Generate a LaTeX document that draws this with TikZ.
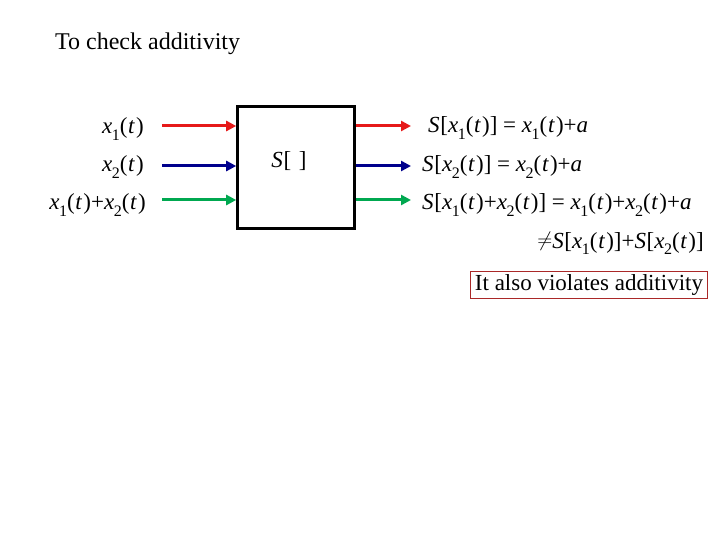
\documentclass[tikz,border=0pt]{standalone}
\usepackage{fontspec}
\setmainfont{Liberation Serif}
\usetikzlibrary{arrows.meta}
\definecolor{sred}{RGB}{230,25,25}
\definecolor{sblue}{RGB}{0,0,140}
\definecolor{sgreen}{RGB}{0,168,80}
\definecolor{boxred}{RGB}{170,40,40}
\newcommand{\vx}[1]{\textit{x}\kern-0.02em\raisebox{-0.28em}{\fontsize{16}{16}\selectfont #1}}
\newcommand{\vt}{(\kern0.03em\textit{t}\kern0.05em)}
\newcommand{\vS}{\textit{S}\kern0.03em}
\begin{document}
\begin{tikzpicture}[x=1pt,y=-1pt,
  lbl/.style={inner sep=0pt,font=\fontsize{23}{27}\selectfont},
  sig/.style={line width=3pt,-{Triangle[length=10pt,width=10pt]}}]
\useasboundingbox[fill=white] (0,0) rectangle (720,540);
\node[lbl,font=\fontsize{24}{28}\selectfont,anchor=base west] (title) at (55,50) {To check additivity};
\node[draw,line width=2.6pt,minimum width=117pt,minimum height=122pt,inner sep=0pt] (sys) at (296,167.5) {};
\node[lbl] (sl) at (289,161) {\vS[\,\,]};
\coordinate (r1) at (162,126);
\coordinate (b1) at (162,166);
\coordinate (g1) at (162,200);
\coordinate (r2) at (411,126);
\coordinate (b2) at (411,166);
\coordinate (g2) at (411,200);
\draw[sig,sred] (r1) -- (r1 -| sys.west);
\draw[sig,sblue] (b1) -- (b1 -| sys.west);
\draw[sig,sgreen] (g1) -- (g1 -| sys.west);
\draw[sig,sred] (sys.east |- r2) -- (r2);
\draw[sig,sblue] (sys.east |- b2) -- (b2);
\draw[sig,sgreen] (sys.east |- g2) -- (g2);
\node[lbl,anchor=base east] (in1) at (144,134) {\vx{1}\vt};
\node[lbl,anchor=base east] (in2) at (144,172) {\vx{2}\vt};
\node[lbl,anchor=base east] (in3) at (146,210) {\vx{1}\vt+\vx{2}\vt};
\node[lbl,anchor=base west] (out1) at (428,133) {\vS[\vx{1}\vt] = \vx{1}\vt+\textit{a}};
\node[lbl,anchor=base west] (out2) at (422,172) {\vS[\vx{2}\vt] = \vx{2}\vt+\textit{a}};
\node[lbl,anchor=base west] (out3) at (422,210) {\vS[\vx{1}\vt+\vx{2}\vt] = \vx{1}\vt+\vx{2}\vt+\textit{a}};
\node[lbl,anchor=base east] (neq) at (704,248) {\raisebox{0.05em}{\fontsize{22}{22}\selectfont$\neq$}\vS[\vx{1}\vt]+\vS[\vx{2}\vt]};
\node[lbl,draw=boxred,line width=1pt,inner xsep=4.5pt,inner ysep=3.5pt,anchor=east] (note) at (708,285) {It also violates additivity};
\end{tikzpicture}
\end{document}
